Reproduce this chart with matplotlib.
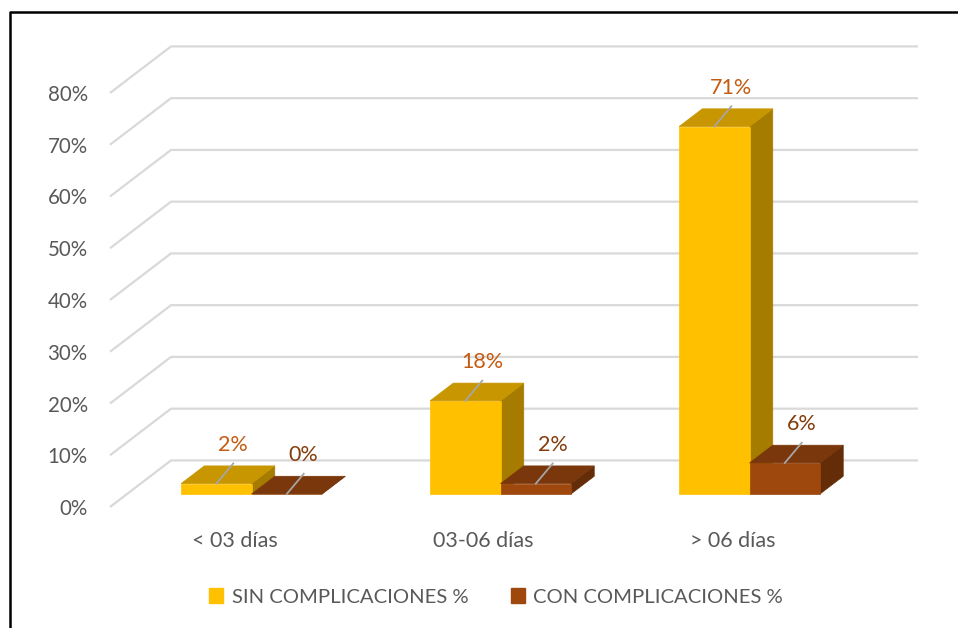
import matplotlib.pyplot as plt
from matplotlib.patches import Polygon, Patch
from matplotlib.lines import Line2D

# ----------------------------------------------------------------
# Data
categories = ['< 03 días', '03-06 días', '> 06 días']
sin_compl = [2, 18, 71]
con_compl = [0, 2, 6]
series_names = ['SIN COMPLICACIONES %', 'CON COMPLICACIONES %']
yticks = [0, 10, 20, 30, 40, 50, 60, 70, 80]

# ----------------------------------------------------------------
# Style
plt.rcParams['font.family'] = ['Lato', 'DejaVu Sans']
TXT = '#595959'
GRID = '#d9d9d9'
# front, top, side
YELLOW = ('#ffc000', '#c89600', '#a67c00')
BROWN = ('#9e480e', '#7a370b', '#652c08')
LBL_COLORS = ['#c55a11', '#843c0c']

# depth of the floor (data units) and bar placement inside it
DX, DY = 0.245, 9.0
D0, D1 = 0.28, 0.66
W = 0.283

fig = plt.figure(figsize=(9.58, 6.28), dpi=100)
ax = fig.add_axes([110 / 958, 121 / 628, 747 / 958, 414 / 628])
ax.set_xlim(-0.5, 2.5)
ax.set_ylim(0, 80)
for s in ax.spines.values():
    s.set_visible(False)

# back wall gridlines + floor diagonals
for v in yticks:
    ax.plot([-0.5, -0.5 + DX, 2.5 + DX], [v, v + DY, v + DY],
            color=GRID, lw=1.6, clip_on=False, zorder=1, solid_capstyle='butt')


def bar3d(x0, v, cols):
    x1 = x0 + W
    fx, fy = D0 * DX, D0 * DY
    bx, by = D1 * DX, D1 * DY
    front = [(x0 + fx, fy), (x1 + fx, fy), (x1 + fx, v + fy), (x0 + fx, v + fy)]
    top = [(x0 + fx, v + fy), (x1 + fx, v + fy), (x1 + bx, v + by), (x0 + bx, v + by)]
    side = [(x1 + fx, fy), (x1 + bx, by), (x1 + bx, v + by), (x1 + fx, v + fy)]
    for pts, c in [(side, cols[2]), (front, cols[0]), (top, cols[1])]:
        ax.add_patch(Polygon(pts, closed=True, facecolor=c, edgecolor=c,
                             lw=0.5, clip_on=False, zorder=3))


def label(x0, v, txt, col):
    xc = x0 + W / 2 + D0 * DX
    yc = v + D0 * DY
    ex, ey = xc + 0.068, yc + 3.9
    ax.plot([xc, ex], [yc, ey], color='#a6a6a6', lw=1.3, clip_on=False, zorder=4)
    ax.text(ex, ey + 3.6, txt, color=col, fontsize=15.5, ha='center', va='center', zorder=5)


for i in range(len(categories)):
    bar3d(i - W, sin_compl[i], YELLOW)
    bar3d(i, con_compl[i], BROWN)
    label(i - W, sin_compl[i], f'{sin_compl[i]}%', LBL_COLORS[0])
    label(i, con_compl[i], f'{con_compl[i]}%', LBL_COLORS[1])

ax.set_xticks(range(len(categories)))
ax.set_xticklabels(categories)
ax.set_yticks(yticks)
ax.set_yticklabels([f'{v}%' for v in yticks])
ax.tick_params(axis='x', length=0, pad=17, labelsize=15.5, labelcolor=TXT)
ax.tick_params(axis='y', length=0, pad=16, labelsize=14.8, labelcolor=TXT)

handles = [Patch(facecolor=YELLOW[0], edgecolor=YELLOW[0]),
           Patch(facecolor=BROWN[0], edgecolor=BROWN[0])]
fig.legend(handles, series_names, loc='center', bbox_to_anchor=(496 / 958, 1 - 597 / 628),
           ncol=2, frameon=False, fontsize=14.6, labelcolor=TXT,
           handlelength=0.7, handleheight=0.7, handletextpad=0.4, columnspacing=2.1)

# outer frame (left + top)
fig.add_artist(Line2D([9.5 / 958, 9.5 / 958, 1], [0, 1 - 11.5 / 628, 1 - 11.5 / 628],
                      transform=fig.transFigure, color='black', lw=1.8))

fig.savefig('out.png', dpi=100)
